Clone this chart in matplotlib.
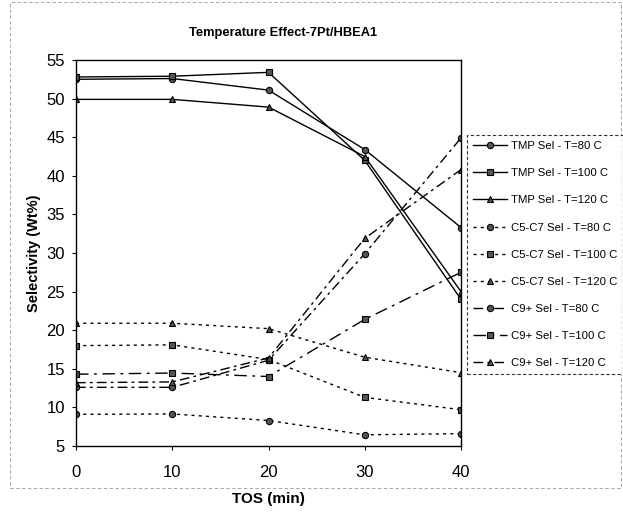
import matplotlib
matplotlib.use("Agg")
import matplotlib.pyplot as plt
from matplotlib.patches import Rectangle

plt.rcParams['font.family'] = ['Liberation Sans', 'DejaVu Sans']

tos = [0, 10, 20, 30, 40]
tmp_80 = [52.5, 52.6, 51.1, 43.4, 33.3]
tmp_100 = [52.8, 52.9, 53.4, 42.0, 24.0]
tmp_120 = [49.9, 49.9, 48.9, 42.5, 25.0]
c5c7_80 = [9.1, 9.15, 8.3, 6.45, 6.6]
c5c7_100 = [18.0, 18.1, 16.2, 11.3, 9.7]
c5c7_120 = [20.9, 20.9, 20.2, 16.5, 14.5]
c9_80 = [12.6, 12.6, 16.1, 29.9, 44.9]
c9_100 = [14.3, 14.45, 14.0, 21.4, 27.5]
c9_120 = [13.2, 13.3, 16.4, 31.9, 40.8]

labels = ["TMP Sel - T=80 C", "TMP Sel - T=100 C", "TMP Sel - T=120 C",
          "C5-C7 Sel - T=80 C", "C5-C7 Sel - T=100 C", "C5-C7 Sel - T=120 C",
          "C9+ Sel - T=80 C", "C9+ Sel - T=100 C", "C9+ Sel - T=120 C"]
series = [tmp_80, tmp_100, tmp_120, c5c7_80, c5c7_100, c5c7_120, c9_80, c9_100, c9_120]
markers = ['o', 's', '^'] * 3
styles = ['-'] * 3 + [(0, (2.2, 3))] * 3 + [(0, (7, 3, 2, 3)), (0, (9, 4, 2, 4)), (0, (7, 3, 2, 3))]

fig = plt.figure(figsize=(6.23, 5.19), dpi=100)
fig.patch.set_facecolor('white')
ax = fig.add_axes([76/623, 1-446/519, (461-76)/623, (446-60)/519])

for y, lab, m, ls in zip(series, labels, markers, styles):
    ax.plot(tos, y, linestyle=ls, color='black', linewidth=1.0,
            marker=m, markersize=4.5, markerfacecolor='#555555',
            markeredgecolor='black', markeredgewidth=0.8, label=lab)

ax.set_xlim(0, 40)
ax.set_ylim(5, 55)
ax.set_xticks([0, 10, 20, 30, 40])
ax.set_yticks(range(5, 56, 5))
ax.tick_params(axis='both', labelsize=12, direction='out', length=3, width=0.8)
ax.tick_params(axis='x', pad=11)
ax.tick_params(axis='y', pad=5)
for s in ax.spines.values():
    s.set_linewidth(1.0)
    s.set_color('black')

ax.set_xlabel("TOS (min)", fontsize=11, fontweight='bold', labelpad=8)
ax.set_ylabel("Selectivity (Wt%)", fontsize=10.5, fontweight='bold', labelpad=4)
fig.text(283/623, 1-33/519, "Temperature Effect-7Pt/HBEA1", fontsize=9.3,
         fontweight='bold', ha='center', va='center')

leg = fig.legend(loc='upper left', bbox_to_anchor=(467/623, 1-135/519),
                 bbox_transform=fig.transFigure, fontsize=8.2, frameon=True,
                 fancybox=False, edgecolor='black', handlelength=3.0,
                 labelspacing=1.5, borderpad=0.55, handletextpad=0.3,
                 borderaxespad=0)
leg.get_frame().set_linewidth(0.8)
leg.get_frame().set_linestyle((0, (3, 2)))

fig.patches.append(Rectangle((10/623, 1-488/519), 611/623, 486/519,
                             transform=fig.transFigure, fill=False,
                             edgecolor='#999999', linewidth=0.6,
                             linestyle=(0, (4, 3))))

fig.savefig("out.png", dpi=100, facecolor='white')
